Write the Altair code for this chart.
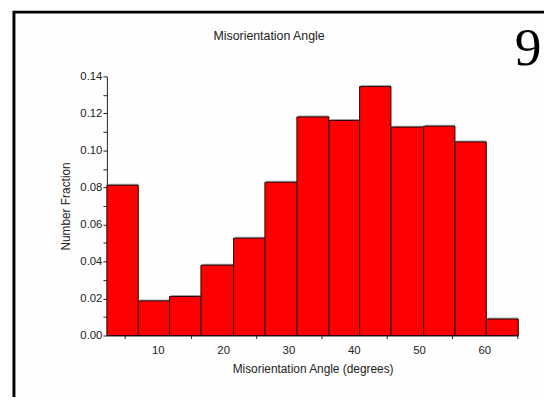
import altair as alt
import pandas as pd

# Bin edges (degrees) and number fraction per bin
bin_start = [2.2, 7.0, 11.8, 16.6, 21.6, 26.4, 31.3, 36.2, 40.9, 45.7, 50.7, 55.5, 60.3]
bin_end = [7.0, 11.8, 16.6, 21.6, 26.4, 31.3, 36.2, 40.9, 45.7, 50.7, 55.5, 60.3, 65.2]
fraction = [0.0812, 0.0187, 0.0211, 0.0380, 0.0526, 0.0828, 0.1181,
            0.1162, 0.1345, 0.1126, 0.1131, 0.1046, 0.0089]

x_ticks = [5, 10, 15, 20, 25, 30, 35, 40, 45, 50, 55, 60, 65]
y_ticks = [0.0, 0.01, 0.02, 0.03, 0.04, 0.05, 0.06, 0.07, 0.08, 0.09, 0.10, 0.11, 0.12, 0.13, 0.14]

chart_title = "Misorientation Angle"
x_title = "Misorientation Angle (degrees)"
y_title = "Number Fraction"
panel_label = "9"

df = pd.DataFrame({"start": bin_start, "end": bin_end, "value": fraction})
one = pd.DataFrame({"t": [chart_title], "n": [panel_label]})

FONT = "Liberation Sans"
W, H = 416, 262

x_enc = alt.X(
    "start:Q",
    scale=alt.Scale(domain=[2.2, 65.2], nice=False, zero=False),
    axis=alt.Axis(
        title=x_title,
        values=x_ticks,
        labelExpr="datum.value % 10 == 0 ? datum.label : ''",
        tickColor={"condition": {"test": "datum.value % 10 == 0", "value": "transparent"},
                   "value": "#222"},
        tickSize=3,
        labelPadding=6,
        titlePadding=8,
        grid=False,
        domainColor="#222",
        labelFont=FONT, titleFont=FONT,
        labelFontSize=11.5, titleFontSize=12,
        labelColor="#222", titleColor="#222",
        titleFontWeight="normal",
    ),
)
y_enc = alt.Y(
    "value:Q",
    scale=alt.Scale(domain=[0, 0.14], nice=False),
    axis=alt.Axis(
        title=y_title,
        values=y_ticks,
        format=".2f",
        labelExpr="round(datum.value * 100) % 2 == 0 ? datum.label : ''",
        tickSize=4,
        labelPadding=1,
        titlePadding=7,
        grid=False,
        domainColor="#222",
        tickColor="#222",
        labelFont=FONT, titleFont=FONT,
        labelFontSize=11.5, titleFontSize=12,
        labelColor="#222", titleColor="#222",
        titleFontWeight="normal",
    ),
)

shadow = alt.Chart(df).mark_bar(color="#9fa9ad", xOffset=1.5, yOffset=-1.5).encode(
    x=x_enc, x2="end:Q", y=y_enc, y2=alt.datum(0)
)
bars = alt.Chart(df).mark_bar(color="#ff0000", stroke="#2b0000", strokeWidth=1).encode(
    x=x_enc, x2="end:Q", y=y_enc, y2=alt.datum(0)
)

title_txt = alt.Chart(one).mark_text(
    font=FONT, fontSize=12.5, color="#222", align="center", baseline="middle"
).encode(x=alt.value(164), y=alt.value(-41), text="t:N")

nine = alt.Chart(one).mark_text(
    font="Liberation Serif", fontSize=54, color="#000", align="center", baseline="alphabetic"
).encode(x=alt.value(426), y=alt.value(-12), text="n:N")

border = alt.Chart(one).mark_rect(filled=False, stroke="#000", strokeWidth=3).encode(
    x=alt.value(-94), x2=alt.value(480), y=alt.value(-65), y2=alt.value(420)
)

chart = alt.layer(border, shadow, bars, title_txt, nine).properties(
    width=W,
    height=H,
    view=alt.ViewBackground(stroke="transparent", strokeWidth=0, strokeOpacity=0),
    autosize=alt.AutoSizeParams(type="none"),
    padding={"left": 100, "top": 67, "right": 26, "bottom": 60},
).configure_view(stroke="transparent", strokeWidth=0, strokeOpacity=0).configure(background="#fefefe")

chart.save("out.html", embed_options={"renderer": "svg", "actions": False})
